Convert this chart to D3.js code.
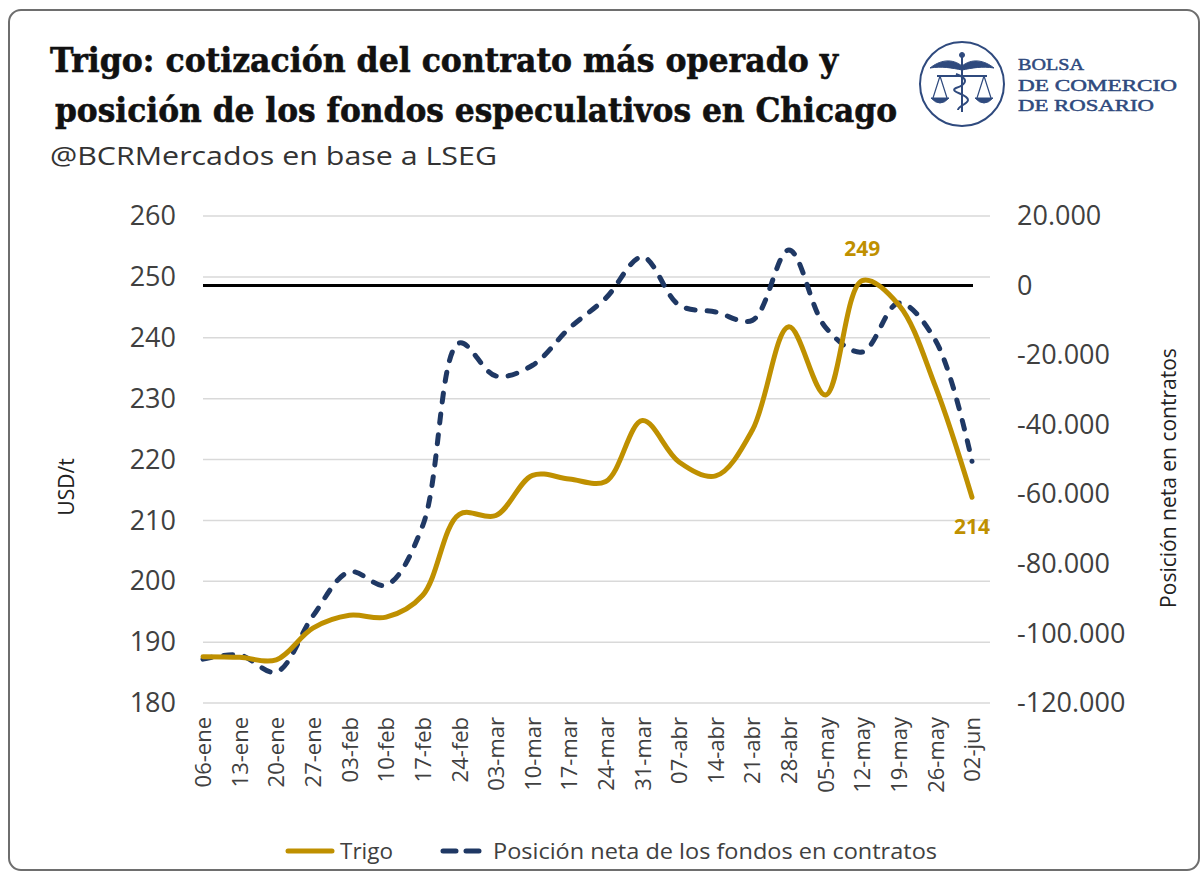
<!DOCTYPE html>
<html>
<head>
<meta charset="utf-8">
<script src="https://cdn.jsdelivr.net/npm/d3@7"></script>
<style>
  html, body { margin: 0; padding: 0; background: #ffffff; }
  svg { display: block; }
</style>
</head>
<body>
<svg id="chart" width="1201" height="876"></svg>
<script>
// ---------------- DATA ----------------
const fechas = ["06-ene","13-ene","20-ene","27-ene","03-feb","10-feb","17-feb","24-feb","03-mar","10-mar","17-mar","24-mar","31-mar","07-abr","14-abr","21-abr","28-abr","05-may","12-may","19-may","26-may","02-jun"];
const trigo = [187.6, 187.5, 187.1, 192.3, 194.4, 194.1, 197.7, 211.0, 210.8, 217.4, 216.8, 216.4, 226.4, 219.6, 217.3, 224.8, 241.8, 230.6, 249.4, 245.4, 232.0, 213.8];
const fondos = [-107400, -106200, -111100, -95000, -82300, -86100, -69000, -16500, -26000, -22900, -12300, -3600, 8200, -5600, -7600, -10000, 10200, -12000, -19100, -5000, -15700, -50500];
const ticksIzq = [180, 190, 200, 210, 220, 230, 240, 250, 260];
const ticksDer = [-120000, -100000, -80000, -60000, -40000, -20000, 0, 20000];
const etiquetas = [{serie: "trigo", idx: 18, texto: "249"}, {serie: "trigo", idx: 21, texto: "214"}];
const leyenda = ["Trigo", "Posición neta de los fondos en contratos"];

// ---------------- SETUP ----------------
const svg = d3.select("#chart");
const GOLD = "#BF9000", NAVY = "#1F3864", TXT = "#404040";
const sans = "'Open Sans', 'Noto Sans', sans-serif";

// card
svg.append("rect").attr("x", 9).attr("y", 10).attr("width", 1190).attr("height", 860)
  .attr("rx", 12).attr("fill", "#fff").attr("stroke", "#6e6e6e").attr("stroke-width", 2);

// title
const tfont = "'DejaVu Serif', 'Liberation Serif', serif";
svg.append("text").attr("x", 50).attr("y", 72).attr("font-family", tfont).attr("font-weight", "bold")
  .attr("font-size", 33).attr("fill", "#111").attr("stroke", "#111").attr("stroke-width", 0.6)
  .attr("textLength", 788).attr("lengthAdjust", "spacingAndGlyphs")
  .text("Trigo: cotización del contrato más operado y");
svg.append("text").attr("x", 55).attr("y", 122).attr("font-family", tfont).attr("font-weight", "bold")
  .attr("font-size", 33).attr("fill", "#111").attr("stroke", "#111").attr("stroke-width", 0.6)
  .attr("textLength", 842).attr("lengthAdjust", "spacingAndGlyphs")
  .text("posición de los fondos especulativos en Chicago");
svg.append("text").attr("x", 50).attr("y", 165).attr("font-family", sans)
  .attr("font-size", 25).attr("fill", "#333").attr("textLength", 447).attr("lengthAdjust", "spacingAndGlyphs")
  .text("@BCRMercados en base a LSEG");

// logo
const LOGO = "#2F4A7E";
const lg = svg.append("g").attr("stroke", LOGO).attr("fill", "none");
lg.append("circle").attr("cx", 962).attr("cy", 84).attr("r", 42).attr("stroke-width", 2);
lg.append("line").attr("x1", 962).attr("y1", 54).attr("x2", 962).attr("y2", 112).attr("stroke-width", 2);
lg.append("circle").attr("cx", 962).attr("cy", 55).attr("r", 2.5).attr("fill", LOGO);
lg.append("path").attr("d", "M962,66 C952,58 940,60 930,68 C942,66 952,68 962,70 Z").attr("fill", LOGO).attr("stroke-width", 1);
lg.append("path").attr("d", "M962,66 C972,58 984,60 994,68 C982,66 972,68 962,70 Z").attr("fill", LOGO).attr("stroke-width", 1);
lg.append("line").attr("x1", 937).attr("y1", 76).attr("x2", 987).attr("y2", 76).attr("stroke-width", 2);
lg.append("path").attr("d", "M940,76 L933,98 M940,76 L947,98 M984,76 L977,98 M984,76 L991,98").attr("stroke-width", 1.2);
lg.append("path").attr("d", "M931,98 Q940,108 949,98 Z").attr("fill", LOGO).attr("stroke-width", 1);
lg.append("path").attr("d", "M975,98 Q984,108 993,98 Z").attr("fill", LOGO).attr("stroke-width", 1);
lg.append("path").attr("d", "M956,74 C968,78 968,84 956,88 C948,92 968,94 968,100 C968,104 958,106 958,110").attr("stroke-width", 2);
const lfont = "'Liberation Serif', 'DejaVu Serif', serif";
[["BOLSA", 70, 66], ["DE COMERCIO", 91, 159], ["DE ROSARIO", 111, 136]].forEach(([t, y, w]) => {
  svg.append("text").attr("x", 1018).attr("y", y).attr("font-family", lfont).attr("font-size", 17.5)
    .attr("fill", LOGO).attr("stroke", LOGO).attr("stroke-width", 0.5)
    .attr("textLength", w).attr("lengthAdjust", "spacingAndGlyphs").text(t);
});

// ---------------- SCALES ----------------
const x = d3.scalePoint().domain(fechas).range([203, 972]);
const yL = d3.scaleLinear().domain([180, 260]).range([703, 216]);
const yR = d3.scaleLinear().domain([-120000, 20000]).range([703, 216]);
const loc = d3.formatLocale({decimal: ",", thousands: ".", grouping: [3], currency: ["$", ""], minus: "-"});
const fmtR = loc.format(",");

// gridlines
svg.append("g").selectAll("line").data(ticksIzq).join("line")
  .attr("x1", 203).attr("x2", 990).attr("y1", d => yL(d)).attr("y2", d => yL(d))
  .attr("stroke", "#d9d9d9").attr("stroke-width", 1.5);

// axes
const axL = svg.append("g").attr("transform", "translate(203,0)")
  .call(d3.axisLeft(yL).tickValues(ticksIzq).tickSize(0).tickPadding(27).tickFormat(d3.format("d")));
const axR = svg.append("g").attr("transform", "translate(990,0)")
  .call(d3.axisRight(yR).tickValues(ticksDer).tickSize(0).tickPadding(27).tickFormat(fmtR));
[axL, axR].forEach(a => {
  a.select(".domain").remove();
  a.selectAll("text").attr("font-family", sans).attr("font-size", 27).attr("fill", TXT);
});
const axB = svg.append("g").attr("transform", "translate(0,703)")
  .call(d3.axisBottom(x).tickSize(0).tickPadding(0));
axB.select(".domain").remove();
axB.selectAll("text").attr("font-family", sans).attr("font-size", 22).attr("fill", TXT)
  .attr("text-anchor", "end").attr("transform", "rotate(-90)")
  .attr("x", -14).attr("y", 0).attr("dy", "0.35em");

// axis titles
svg.append("text").attr("transform", "translate(68,487) rotate(-90)").attr("text-anchor", "middle")
  .attr("dominant-baseline", "middle").attr("font-family", sans).attr("font-size", 21).attr("fill", "#222").text("USD/t");
svg.append("text").attr("transform", "translate(1170,478) rotate(-90)").attr("text-anchor", "middle")
  .attr("dominant-baseline", "middle").attr("font-family", sans).attr("font-size", 21).attr("fill", "#222")
  .text("Posición neta en contratos");

// zero line (right axis)
svg.append("line").attr("x1", x(fechas[0])).attr("x2", x(fechas[fechas.length - 1]) + 1)
  .attr("y1", yR(0)).attr("y2", yR(0)).attr("stroke", "#000").attr("stroke-width", 3);

// lines
const curve = d3.curveCatmullRom.alpha(0.5);
const lineL = d3.line().x((d, i) => x(fechas[i])).y(d => yL(d)).curve(curve);
const lineR = d3.line().x((d, i) => x(fechas[i])).y(d => yR(d)).curve(curve);
svg.append("path").datum(fondos).attr("d", lineR).attr("fill", "none").attr("stroke", NAVY)
  .attr("stroke-width", 5).attr("stroke-dasharray", "9,12").attr("stroke-linecap", "round");
svg.append("path").datum(trigo).attr("d", lineL).attr("fill", "none").attr("stroke", GOLD)
  .attr("stroke-width", 5).attr("stroke-linecap", "round");

// data labels
const lbl = svg.append("g");
lbl.append("text").attr("x", x(fechas[etiquetas[0].idx])).attr("y", yL(trigo[etiquetas[0].idx]) - 25)
  .attr("text-anchor", "middle").attr("font-family", sans).attr("font-weight", "bold").attr("font-size", 21)
  .attr("fill", GOLD).text(etiquetas[0].texto);
lbl.append("text").attr("x", x(fechas[etiquetas[1].idx])).attr("y", yL(trigo[etiquetas[1].idx]) + 37)
  .attr("text-anchor", "middle").attr("font-family", sans).attr("font-weight", "bold").attr("font-size", 21)
  .attr("fill", GOLD).text(etiquetas[1].texto);

// legend
const leg = svg.append("g");
leg.append("line").attr("x1", 288).attr("x2", 332).attr("y1", 851).attr("y2", 851)
  .attr("stroke", GOLD).attr("stroke-width", 5).attr("stroke-linecap", "round");
leg.append("text").attr("x", 340).attr("y", 851).attr("dy", "0.35em").attr("font-family", sans)
  .attr("font-size", 22).attr("fill", TXT).attr("textLength", 53).attr("lengthAdjust", "spacingAndGlyphs").text(leyenda[0]);
leg.append("line").attr("x1", 443).attr("x2", 484).attr("y1", 851).attr("y2", 851)
  .attr("stroke", NAVY).attr("stroke-width", 5).attr("stroke-dasharray", "13,10").attr("stroke-linecap", "round");
leg.append("text").attr("x", 493).attr("y", 851).attr("dy", "0.35em").attr("font-family", sans)
  .attr("font-size", 22).attr("fill", TXT).attr("textLength", 444).attr("lengthAdjust", "spacingAndGlyphs").text(leyenda[1]);
</script>
</body>
</html>
